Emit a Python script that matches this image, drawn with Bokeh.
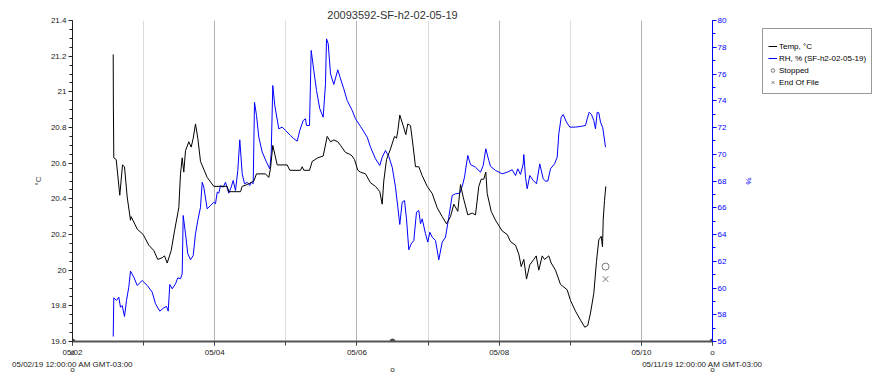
import numpy as np
import pandas as pd
from bokeh.plotting import figure
from bokeh.layouts import row
from bokeh.models import (Range1d, LinearAxis, FixedTicker, DatetimeTickFormatter,
                          Legend, LegendItem, ColumnDataSource)
from bokeh.embed import file_html
from bokeh.resources import INLINE

# ---------------- data ----------------
start = pd.Timestamp("2019-05-02 00:00")
end = pd.Timestamp("2019-05-11 00:00")

title_text = "20093592-SF-h2-02-05-19"
start_label = "05/02/19 12:00:00 AM GMT-03:00"
end_label = "05/11/19 12:00:00 AM GMT-03:00"
legend_labels = ["Temp, °C", "RH, % (SF-h2-02-05-19)", "Stopped", "End Of File"]

# hours since 05/02/19 00:00
temp_hours = [13.74, 13.8, 13.94, 14.75, 15.96, 16.88, 17.55, 18.46, 19.58, 19.81,
              21.84, 23.86, 25.75, 27.44, 28.79, 30.27, 31.05, 31.96, 33.31, 34.43,
              35.88, 36.45, 37.02, 37.56, 38.14, 39.25, 40.06, 40.74, 41.51, 42.29,
              43.2, 45.46, 47.69, 52.21, 52.75, 56.7, 57.27, 58.96, 61.19, 62.1,
              65.14, 66.25, 66.83, 67.6, 69.09, 72.46, 73.34, 76.95, 77.52, 78.06,
              79.99, 80.9, 82.79, 84.61, 85.96, 87.08, 88.19, 89.54, 90.45, 92.14,
              93.59, 94.4, 95.18, 96.29, 97.2, 98.89, 100.58, 102.26, 103.71, 104.52,
              105.06, 105.98, 107.33, 108.68, 109.35, 109.79, 110.46, 111.61, 112.49, 113.16,
              114.08, 114.99, 115.76, 116.88, 118.02, 119.71, 121.4, 123.09, 124.77, 126.23,
              127.58, 128.69, 130.04, 130.95, 131.86, 133.41, 134.9, 136.01, 137.13, 137.94,
              138.81, 139.49, 139.96, 141.31, 142.76, 145.02, 146.71, 147.83, 149.51, 150.63,
              151.44, 152.32, 153.23, 154.34, 155.69, 156.5, 157.38, 158.53, 159.3, 160.75,
              161.56, 163.01, 164.7, 166.96, 168.08, 169.76, 171.45, 172.9, 173.91, 174.83,
              175.94, 176.85, 177.63, 178.44, 178.88, 179.11, 179.55, 179.99]
temp_c = [21.21, 20.92, 20.63, 20.62, 20.42, 20.59, 20.58, 20.41, 20.28, 20.30,
          20.23, 20.20, 20.14, 20.11, 20.06, 20.07, 20.08, 20.04, 20.11, 20.22,
          20.35, 20.54, 20.63, 20.55, 20.67, 20.72, 20.69, 20.74, 20.82, 20.74,
          20.61, 20.52, 20.47, 20.47, 20.44, 20.44, 20.47, 20.48, 20.50, 20.54,
          20.54, 20.52, 20.57, 20.70, 20.59, 20.59, 20.56, 20.56, 20.58, 20.56,
          20.56, 20.61, 20.63, 20.64, 20.75, 20.72, 20.73, 20.72, 20.70, 20.66,
          20.65, 20.64, 20.62, 20.56, 20.55, 20.54, 20.49, 20.47, 20.44, 20.37,
          20.50, 20.62, 20.68, 20.75, 20.74, 20.78, 20.87, 20.81, 20.76, 20.82,
          20.81, 20.69, 20.58, 20.58, 20.53, 20.47, 20.43, 20.35, 20.30, 20.26,
          20.30, 20.37, 20.33, 20.48, 20.41, 20.31, 20.32, 20.31, 20.47, 20.51,
          20.51, 20.55, 20.43, 20.33, 20.28, 20.22, 20.20, 20.16, 20.14, 20.09,
          20.02, 20.06, 19.95, 20.03, 20.06, 20.08, 20.00, 20.08, 20.06, 20.08,
          20.04, 20.00, 19.92, 19.89, 19.83, 19.77, 19.72, 19.68, 19.69, 19.76,
          19.87, 20.05, 20.17, 20.19, 20.13, 20.28, 20.39, 20.47]

rh_hours = [13.74, 13.94, 14.85, 15.63, 16.2, 16.77, 17.55, 18.23, 19.0, 19.58,
            20.69, 21.84, 23.52, 25.21, 26.9, 28.01, 29.46, 30.81, 31.73, 32.3,
            32.84, 33.65, 34.76, 35.54, 36.45, 37.02, 37.36, 38.14, 38.91, 39.83,
            40.74, 41.51, 42.29, 43.2, 43.77, 44.31, 45.46, 46.58, 47.69, 48.26,
            48.84, 49.38, 49.95, 50.86, 51.64, 52.75, 53.56, 54.24, 55.01, 55.79,
            56.46, 57.27, 58.05, 58.96, 59.84, 60.31, 60.99, 61.43, 62.1, 62.88,
            64.02, 65.48, 66.59, 67.06, 67.6, 68.28, 69.63, 70.77, 71.89, 73.58,
            74.69, 75.84, 76.71, 77.86, 78.64, 78.98, 79.99, 80.56, 81.44, 82.35,
            83.46, 84.61, 85.39, 85.73, 86.3, 87.08, 88.19, 89.54, 90.45, 91.56,
            92.71, 94.4, 95.51, 97.2, 99.46, 100.58, 102.26, 103.71, 104.52, 105.64,
            106.75, 107.9, 109.01, 109.79, 110.46, 111.27, 112.05, 112.73, 113.5, 114.31,
            115.19, 116.1, 116.88, 117.45, 118.02, 119.14, 119.91, 120.59, 121.4, 122.51,
            123.63, 124.77, 125.89, 127.0, 128.15, 129.26, 130.71, 131.52, 132.3, 133.41,
            134.33, 136.01, 137.7, 138.61, 139.49, 140.5, 141.08, 142.76, 145.02, 146.71,
            148.4, 149.51, 150.29, 151.2, 152.11, 152.32, 152.89, 153.46, 154.34, 155.49,
            156.6, 157.71, 158.86, 159.64, 160.41, 161.33, 162.68, 163.59, 164.13, 164.94,
            165.61, 166.73, 167.84, 169.76, 171.45, 173.14, 173.71, 174.38, 175.16, 175.94,
            176.51, 177.09, 177.63, 178.2, 178.98, 179.89]
rh_pct = [56.37, 59.27, 59.07, 59.31, 58.56, 58.69, 57.87, 59.07, 60.06, 61.26,
          60.81, 60.19, 60.56, 60.19, 59.69, 58.82, 58.27, 58.52, 58.62, 58.27,
          60.26, 59.94, 60.31, 60.76, 60.69, 61.06, 65.42, 64.05, 62.56, 62.11,
          62.43, 64.05, 65.05, 66.04, 67.91, 67.54, 65.92, 66.17, 66.41, 66.30,
          67.16, 67.10, 67.66, 67.54, 67.91, 67.09, 67.54, 68.04, 67.29, 68.79,
          71.08, 68.54, 67.79, 67.90, 67.66, 67.90, 67.80, 73.89, 72.90, 71.28,
          70.16, 69.41, 68.91, 70.03, 75.14, 73.64, 71.90, 72.03, 71.78, 71.40,
          71.16, 70.98, 71.78, 72.52, 72.65, 72.15, 72.15, 77.76, 76.26, 74.77,
          73.40, 72.77, 75.27, 78.63, 78.26, 76.01, 75.22, 76.31, 75.64, 74.89,
          74.02, 73.27, 72.65, 72.08, 71.28, 70.53, 69.66, 69.16, 69.78, 70.28,
          69.83, 69.03, 67.54, 66.04, 64.75, 66.42, 66.54, 65.17, 62.86, 63.30,
          63.55, 65.67, 65.79, 64.80, 65.17, 64.05, 63.43, 64.17, 63.80, 63.55,
          62.11, 63.43, 63.80, 65.29, 66.92, 67.04, 67.09, 67.59, 68.29, 69.91,
          69.23, 69.03, 68.66, 69.16, 70.41, 69.53, 69.10, 68.79, 68.54, 68.66,
          68.84, 68.41, 68.91, 68.49, 69.28, 69.98, 68.28, 67.42, 68.41, 68.04,
          67.79, 69.28, 68.16, 67.99, 67.99, 68.91, 69.28, 69.78, 71.53, 72.77,
          72.97, 72.40, 72.03, 72.03, 72.08, 72.15, 72.65, 73.14, 72.97, 72.52,
          71.90, 73.14, 73.10, 72.40, 71.97, 70.53]

stop_hours = [179.9]
stop_temp = [20.02]
eof_hours = [179.9]
eof_temp = [19.95]

temp_ticks = [19.6, 19.8, 20.0, 20.2, 20.4, 20.6, 20.8, 21.0, 21.2, 21.4]
temp_tick_labels = ["19.6", "19.8", "20", "20.2", "20.4", "20.6", "20.8", "21", "21.2", "21.4"]
rh_ticks = [56, 58, 60, 62, 64, 66, 68, 70, 72, 74, 76, 78, 80]
date_tick_days = [0, 2, 4, 6, 8]
date_tick_labels = ["05/02", "05/04", "05/06", "05/08", "05/10"]
all_days = [0, 1, 2, 3, 4, 5, 6, 7, 8, 9]
axis_point_days = [0, 4.5, 9]

# ---------------- helpers ----------------
def to_dt(hours):
    return (start + pd.to_timedelta(np.asarray(hours, dtype=float), unit="h")).to_numpy()

def ms(ts):
    return ts.value / 1e6

def day_ms(d):
    return ms(start + pd.Timedelta(days=d))

FONT = "Liberation Sans"
BLUE = "#0000ff"
GREY = "#777777"

t_src = ColumnDataSource(dict(t=to_dt(temp_hours), v=temp_c))
rh_src = ColumnDataSource(dict(t=to_dt(rh_hours), v=rh_pct))
stop_src = ColumnDataSource(dict(t=to_dt(stop_hours), v=stop_temp))
eof_src = ColumnDataSource(dict(t=to_dt(eof_hours), v=eof_temp))
pt_src = ColumnDataSource(dict(t=to_dt([d * 24 for d in axis_point_days]), v=[19.6] * len(axis_point_days)))

LEG_W = 115
p = figure(width=877 - LEG_W, height=376, x_axis_type="datetime",
           x_range=Range1d(ms(start), ms(end)), y_range=Range1d(19.6, 21.4),
           output_backend="svg", toolbar_location=None,
           min_border_left=72, min_border_right=50, min_border_top=20, min_border_bottom=35)
p.outline_line_color = None
p.background_fill_color = "white"
p.border_fill_color = "white"
p.extra_y_ranges = {"rh": Range1d(56, 80)}

# title
p.title.text = title_text
p.title.align = "center"
p.title.text_font = FONT
p.title.text_font_size = "11px"
p.title.text_font_style = "normal"
p.title.text_color = "#333333"
p.title.standoff = 0

# main x axis: dates + the small 'o' marks near the ends
tiny = 1.0  # ms
main_ticks = [day_ms(d) for d in date_tick_days] + [day_ms(0) + tiny, day_ms(9)]
main_labels = date_tick_labels + ["o", "o"]
xa = p.xaxis[0]
xa.ticker = FixedTicker(ticks=main_ticks, minor_ticks=[day_ms(d) for d in all_days])
xa.formatter = DatetimeTickFormatter(hours="%m/%d", days="%m/%d", months="%m/%d", years="%m/%d", context=None)
xa.major_label_overrides = dict(zip(main_ticks, main_labels))
xa.axis_line_color = "#555555"
xa.axis_line_width = 2
xa.major_tick_line_color = "#444444"
xa.minor_tick_line_color = "#444444"
xa.major_tick_out = 4
xa.major_tick_in = 0
xa.minor_tick_out = 4
xa.minor_tick_in = 0
xa.major_label_standoff = 2
xa.major_label_text_font = FONT
xa.major_label_text_font_size = "8px"
xa.major_label_text_color = "#222222"

p.xgrid.ticker = FixedTicker(ticks=[day_ms(d) for d in date_tick_days],
                             minor_ticks=[day_ms(d) for d in all_days])
p.xgrid.grid_line_color = "#b4b4b4"
p.xgrid.minor_grid_line_color = "#dcdcdc"
p.ygrid.grid_line_color = None

# second row under the axis: full start/end timestamps
end_ticks = [day_ms(0), day_ms(9)]
xa2 = LinearAxis(ticker=FixedTicker(ticks=end_ticks),
                 major_label_overrides=dict(zip(end_ticks, [start_label, end_label])))
# third row: small 'o' marks
o_ticks = [day_ms(d) for d in axis_point_days]
xa3 = LinearAxis(ticker=FixedTicker(ticks=o_ticks),
                 major_label_overrides=dict(zip(o_ticks, ["o"] * len(o_ticks))))
for ax, so in [(xa2, 0), (xa3, -7)]:
    ax.axis_line_color = None
    ax.major_tick_line_color = None
    ax.minor_tick_line_color = None
    ax.major_tick_out = 0
    ax.major_tick_in = 0
    ax.minor_tick_out = 0
    ax.minor_tick_in = 0
    ax.major_label_standoff = so
    ax.major_label_text_font = FONT
    ax.major_label_text_font_size = "8px"
    ax.major_label_text_color = "#222222"
    p.add_layout(ax, "below")

# left axis (temperature)
ya = p.yaxis[0]
ya.ticker = FixedTicker(ticks=temp_ticks,
                        minor_ticks=list(np.round(np.arange(19.6, 21.41, 0.05), 2)))
ya.major_label_overrides = dict(zip(temp_ticks, temp_tick_labels))
ya.axis_label = "°C"
ya.axis_label_text_font = FONT
ya.axis_label_text_font_size = "8px"
ya.axis_label_text_font_style = "normal"
ya.axis_label_standoff = 5
ya.axis_line_color = "#222222"
ya.major_tick_line_color = "#222222"
ya.minor_tick_line_color = "#222222"
ya.major_tick_out = 4
ya.major_tick_in = 0
ya.minor_tick_out = 3
ya.minor_tick_in = 0
ya.major_label_standoff = 2
ya.major_label_text_font = FONT
ya.major_label_text_font_size = "8px"
ya.major_label_text_color = "#222222"

# right axis (RH)
ra = LinearAxis(y_range_name="rh",
                ticker=FixedTicker(ticks=rh_ticks, minor_ticks=list(range(56, 81))),
                axis_label="%")
ra.axis_label_text_font = FONT
ra.axis_label_text_font_size = "8px"
ra.axis_label_text_font_style = "normal"
ra.axis_label_text_color = BLUE
ra.axis_label_standoff = 15
ra.axis_line_color = BLUE
ra.major_tick_line_color = BLUE
ra.minor_tick_line_color = BLUE
ra.major_tick_out = 4
ra.major_tick_in = 0
ra.minor_tick_out = 3
ra.minor_tick_in = 0
ra.major_label_standoff = 1
ra.major_label_text_font = FONT
ra.major_label_text_font_size = "8px"
ra.major_label_text_color = BLUE
p.add_layout(ra, "right")

# series
line_styles = dict(temp=dict(line_color="black", line_width=1),
                   rh=dict(line_color=BLUE, line_width=1))
stop_style = dict(marker="circle", size=7, fill_color=None, line_color=GREY, line_width=1)
eof_style = dict(marker="x", size=8, line_color=GREY, line_width=1)

p.line("t", "v", source=rh_src, y_range_name="rh", **line_styles["rh"])
p.line("t", "v", source=t_src, **line_styles["temp"])
p.scatter("t", "v", source=stop_src, **stop_style)
p.scatter("t", "v", source=eof_src, **eof_style)
p.scatter("t", "v", source=pt_src, marker="circle", size=5,
          fill_color="#444444", line_color="#444444")

# ---------------- legend panel (separate small figure to the right) ----------------
pl = figure(width=LEG_W, height=376, output_backend="svg", toolbar_location=None,
            x_range=Range1d(0, 1), y_range=Range1d(0, 1),
            x_axis_location=None, y_axis_location=None,
            min_border=0, min_border_left=0, min_border_right=0,
            min_border_top=0, min_border_bottom=0)
pl.outline_line_color = None
pl.grid.visible = False
pl.background_fill_color = "white"
pl.border_fill_color = "white"
# legend proxies: their only point lies outside the visible range, so only the legend shows them
proxy = ColumnDataSource(dict(x=[-5.0, -4.0], y=[-5.0, -4.0]))
lr_t = pl.line("x", "y", source=proxy, **line_styles["temp"])
lr_rh = pl.line("x", "y", source=proxy, **line_styles["rh"])
lr_stop = pl.scatter("x", "y", source=proxy, **stop_style)
lr_eof = pl.scatter("x", "y", source=proxy, **eof_style)

legend = Legend(items=[LegendItem(label=lab, renderers=[r])
                       for lab, r in zip(legend_labels, [lr_t, lr_rh, lr_stop, lr_eof])],
                location=(0, 247), orientation="vertical",
                title=" ", title_text_font_size="5px", title_standoff=0,
                padding=5, spacing=0, margin=0,
                glyph_width=9, glyph_height=12, label_height=12, label_standoff=2,
                label_text_font=FONT, label_text_font_size="8px",
                label_text_color="black",
                border_line_color="#333333", border_line_width=1.5,
                background_fill_color="white", background_fill_alpha=1.0)
pl.add_layout(legend)

layout = row(p, pl, spacing=0)
open("out.html", "w").write(file_html(layout, INLINE))
